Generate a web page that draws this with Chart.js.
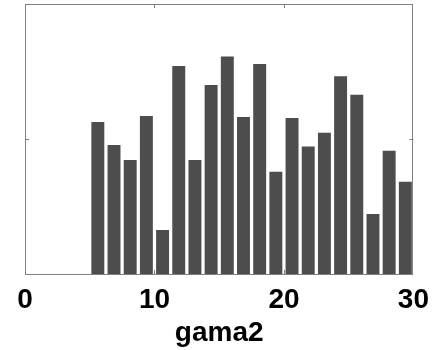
<!DOCTYPE html>
<html>
<head>
<meta charset="utf-8">
<script src="https://cdn.jsdelivr.net/npm/chart.js@4"></script>
<style>
  html, body { margin: 0; padding: 0; background: #ffffff; }
  #wrap { width: 438px; height: 350px; }
</style>
</head>
<body>
<div id="wrap"><canvas id="c" width="438" height="350"></canvas></div>
<script>
// Histogram bin centres (gama2) and counts
const binCenters = [5.625, 6.875, 8.125, 9.375, 10.625, 11.875, 13.125, 14.375, 15.625, 16.875,
                    18.125, 19.375, 20.625, 21.875, 23.125, 24.375, 25.625, 26.875, 28.125, 29.375];
const counts = [11.26, 9.56, 8.44, 11.70, 3.26, 15.41, 8.44, 14.0, 16.12, 11.63,
                15.56, 7.58, 11.56, 9.45, 10.47, 14.64, 13.28, 4.44, 9.13, 6.84];
const xTicks = [0, 10, 20, 30];
const yTicks = [0, 10, 20];
const xLabel = 'gama2';

const points = binCenters.map((x, i) => ({ x: x, y: counts[i] }));

const boxPlugin = {
  id: 'boxTicks',
  afterDraw(chart) {
    const ctx = chart.ctx;
    const a = chart.chartArea;
    const xs = chart.scales.x, ys = chart.scales.y;
    ctx.save();
    ctx.strokeStyle = '#808080';
    ctx.lineWidth = 1;
    ctx.strokeRect(Math.round(a.left) + 0.5, Math.round(a.top) + 0.5,
                   Math.round(a.right - a.left) - 1, Math.round(a.bottom - a.top));
    const len = 4;
    ctx.beginPath();
    xTicks.forEach(v => {
      if (v <= xs.min || v >= xs.max) return;
      const px = Math.round(xs.getPixelForValue(v)) + 0.5;
      ctx.moveTo(px, a.bottom); ctx.lineTo(px, a.bottom - len);
      ctx.moveTo(px, a.top); ctx.lineTo(px, a.top + len);
    });
    yTicks.forEach(v => {
      if (v <= ys.min || v >= ys.max) return;
      const py = Math.round(ys.getPixelForValue(v)) + 0.5;
      ctx.moveTo(a.left, py); ctx.lineTo(a.left + len, py);
      ctx.moveTo(a.right, py); ctx.lineTo(a.right - len, py);
    });
    ctx.stroke();
    ctx.restore();
  }
};

new Chart(document.getElementById('c'), {
  type: 'bar',
  data: {
    datasets: [{
      data: points,
      backgroundColor: '#4d4d4d',
      borderColor: '#3d3d3d',
      borderWidth: 0,
      barPercentage: 0.8,
      categoryPercentage: 1.0
    }]
  },
  options: {
    responsive: false,
    animation: false,
    devicePixelRatio: 1,
    layout: { padding: { top: 4, right: 24, left: 0, bottom: 0 } },
    plugins: { legend: { display: false }, tooltip: { enabled: false } },
    scales: {
      x: {
        type: 'linear',
        min: 0, max: 30,
        offset: false,
        afterBuildTicks: s => { s.ticks = xTicks.map(v => ({ value: v })); },
        grid: { display: false, drawTicks: false, offset: false },
        border: { display: false },
        ticks: {
          color: '#000000',
          font: { family: '"Liberation Sans", Arial, sans-serif', size: 28, weight: 'bold' },
          padding: 9,
          maxRotation: 0,
          autoSkip: false
        },
        title: {
          display: true,
          text: xLabel,
          color: '#000000',
          font: { family: '"Liberation Sans", Arial, sans-serif', size: 28, weight: 'bold' },
          padding: { top: -4, bottom: 0 }
        },
        afterFit: s => { s.height = 76; }
      },
      y: {
        min: 0, max: 20,
        afterBuildTicks: s => { s.ticks = yTicks.map(v => ({ value: v })); },
        grid: { display: false, drawTicks: false },
        border: { display: false },
        ticks: { display: false },
        afterFit: s => { s.width = 25; }
      }
    }
  },
  plugins: [boxPlugin]
});
</script>
</body>
</html>
